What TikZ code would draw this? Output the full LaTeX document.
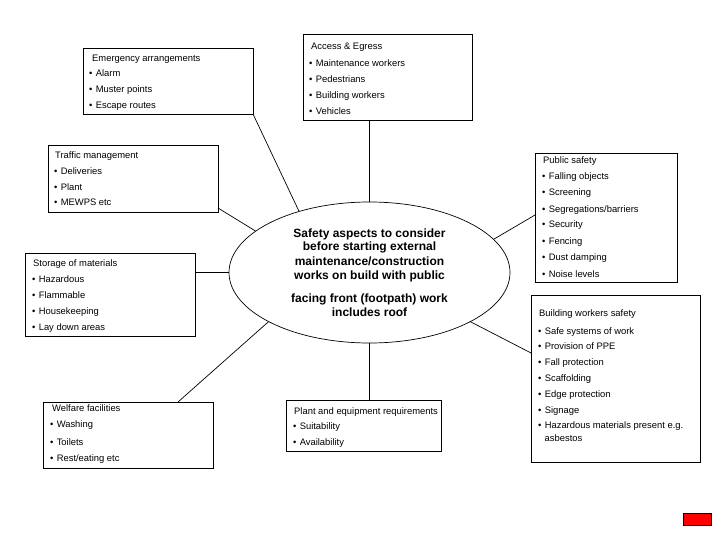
\documentclass[tikz,border=0pt]{standalone}
\usepackage{fontspec}
\setmainfont{Liberation Sans}
\usetikzlibrary{shapes.geometric,calc}
\newcommand{\bul}{\textbullet\hspace{3.3pt}}
\tikzset{
  boxnode/.style={draw=black,line width=0.8pt,inner sep=0pt,outer sep=0pt,anchor=north west},
  tt/.style={anchor=base west,inner sep=0pt,font=\fontsize{9.4}{11}\selectfont},
  ct/.style={anchor=base,inner sep=0pt,font=\fontsize{12}{14}\selectfont\bfseries},
  conn/.style={draw=black,line width=0.7pt},
}
\begin{document}
\begin{tikzpicture}[x=1pt,y=-1pt]
\useasboundingbox[fill=white] (0,0) rectangle (720,540);

% central ellipse
\node[draw=black,line width=0.7pt,ellipse,minimum width=281pt,minimum height=141pt,inner sep=0pt] (c) at (369.5,272.5) {};
\node[ct] (c1) at (369.5,237) {Safety aspects to consider};
\node[ct] (c2) at (369.5,251) {before starting external};
\node[ct] (c3) at (369.5,265) {maintenance/construction};
\node[ct] (c4) at (369.5,279) {works on build with public};
\node[ct] (c5) at (369.5,302) {facing front (footpath) work};
\node[ct] (c6) at (369.5,316) {includes roof};

% Emergency arrangements
\node[boxnode,minimum width=170pt,minimum height=66pt] (em) at (83,48) {};
\node[tt] (em0) at (92,61.5) {Emergency arrangements};
\node[tt] (em1) at (89,76.5) {\bul Alarm};
\node[tt] (em2) at (89,92.5) {\bul Muster points};
\node[tt] (em3) at (89,108.5) {\bul Escape routes};

% Access & Egress
\node[boxnode,minimum width=169pt,minimum height=86pt] (ac) at (303,34) {};
\node[tt] (ac0) at (311,49.5) {Access \& Egress};
\node[tt] (ac1) at (309,66.5) {\bul Maintenance workers};
\node[tt] (ac2) at (309,82.5) {\bul Pedestrians};
\node[tt] (ac3) at (309,98.5) {\bul Building workers};
\node[tt] (ac4) at (309,114.5) {\bul Vehicles};

% Traffic management
\node[boxnode,minimum width=170pt,minimum height=67pt] (tr) at (48,145) {};
\node[tt] (tr0) at (55,158.5) {Traffic management};
\node[tt] (tr1) at (54,174.5) {\bul Deliveries};
\node[tt] (tr2) at (54,190.5) {\bul Plant};
\node[tt] (tr3) at (54,205.5) {\bul MEWPS etc};

% Storage of materials
\node[boxnode,minimum width=170pt,minimum height=83pt] (st) at (25,253) {};
\node[tt] (st0) at (33,266.5) {Storage of materials};
\node[tt] (st1) at (32,282.5) {\bul Hazardous};
\node[tt] (st2) at (32,298.5) {\bul Flammable};
\node[tt] (st3) at (32,314.5) {\bul Housekeeping};
\node[tt] (st4) at (32,330.5) {\bul Lay down areas};

% Public safety
\node[boxnode,minimum width=142pt,minimum height=129pt] (ps) at (535,153) {};
\node[tt] (ps0) at (543,163.5) {Public safety};
\node[tt] (ps1) at (542,179.5) {\bul Falling objects};
\node[tt] (ps2) at (542,195.5) {\bul Screening};
\node[tt] (ps3) at (542,212) {\bul Segregations/barriers};
\node[tt] (ps4) at (542,228) {\bul Security};
\node[tt] (ps5) at (542,244) {\bul Fencing};
\node[tt] (ps6) at (542,260.5) {\bul Dust damping};
\node[tt] (ps7) at (542,277) {\bul Noise levels};

% Building workers safety
\node[boxnode,minimum width=169pt,minimum height=167pt] (bw) at (531,295) {};
\node[tt] (bw0) at (539,316.5) {Building workers safety};
\node[tt] (bw1) at (538,334) {\bul Safe systems of work};
\node[tt] (bw2) at (538,349.5) {\bul Provision of PPE};
\node[tt] (bw3) at (538,365.5) {\bul Fall protection};
\node[tt] (bw4) at (538,381.5) {\bul Scaffolding};
\node[tt] (bw5) at (538,397) {\bul Edge protection};
\node[tt] (bw6) at (538,413) {\bul Signage};
\node[tt] (bw7) at (538,428) {\bul Hazardous materials present e.g.};
\node[tt] (bw8) at (544.5,441.5) {asbestos};

% Welfare facilities
\node[boxnode,minimum width=170pt,minimum height=66pt] (wf) at (43,402) {};
\node[tt] (wf0) at (52,411.5) {Welfare facilities};
\node[tt] (wf1) at (50,427.5) {\bul Washing};
\node[tt] (wf2) at (50,445.5) {\bul Toilets};
\node[tt] (wf3) at (50,461.5) {\bul Rest/eating etc};

% Plant and equipment requirements
\node[boxnode,minimum width=155pt,minimum height=51pt] (pe) at (286,400) {};
\node[tt] (pe0) at (294,414) {Plant and equipment requirements};
\node[tt] (pe1) at (293,429.5) {\bul Suitability};
\node[tt] (pe2) at (293,445.5) {\bul Availability};

% connectors
\draw[conn] (em.south east) -- (c.139);
\draw[conn] (ac.south -| c.north) -- (c.north);
\draw[conn] ($(tr.south east)+(0,-4)$) -- (c.160);
\draw[conn] (st.east |- c.west) -- (c.west);
\draw[conn] ($(ps.north west)+(0,62)$) -- (c.15.5);
\draw[conn] ($(bw.north west)+(0,58)$) -- (c.-26.6);
\draw[conn] ($(wf.north east)+(-35,0)$) -- (c.206);
\draw[conn] (pe.north -| c.south) -- (c.south);

% red marker
\node[draw=black,fill=red,line width=0.6pt,inner sep=0pt,minimum width=28pt,minimum height=12pt,anchor=north west] (red) at (683,513) {};
\end{tikzpicture}
\end{document}
